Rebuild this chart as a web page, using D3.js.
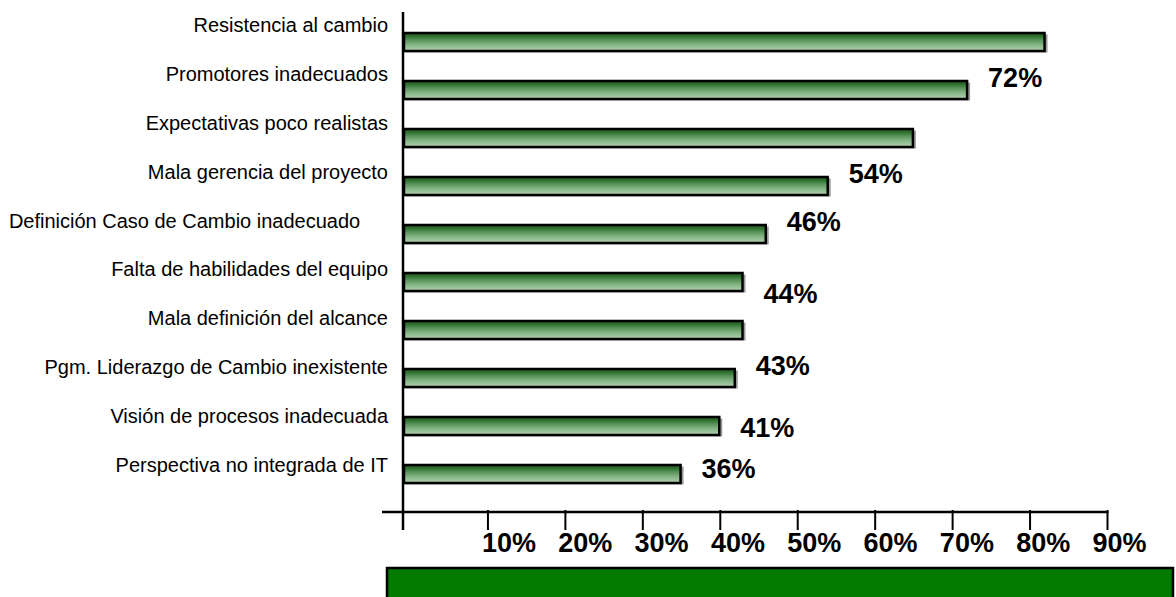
<!DOCTYPE html>
<html>
<head>
<meta charset="utf-8">
<script src="https://cdn.jsdelivr.net/npm/d3@7"></script>
<style>
  html, body { margin: 0; padding: 0; background: #fff; }
  svg { display: block; }
</style>
</head>
<body>
<svg id="chart" width="1176" height="597"></svg>
<script>
// ---- data ----
const categories = [
  "Resistencia al cambio",
  "Promotores inadecuados",
  "Expectativas poco realistas",
  "Mala gerencia del proyecto",
  "Definición Caso de Cambio inadecuado\u00a0\u00a0\u00a0\u00a0\u00a0",
  "Falta de habilidades del equipo",
  "Mala definición del alcance",
  "Pgm. Liderazgo de Cambio inexistente",
  "Visión de procesos inadecuada",
  "Perspectiva no integrada de IT"
];
const values = [82, 72, 65, 54, 46, 43, 43, 42, 40, 35];

// value labels as printed on the chart, the bar each one belongs to,
// and where along the category axis each one sits
const labelTexts = ["72%", "54%", "46%", "44%", "43%", "41%", "36%"];
const labelBars  = [1, 3, 4, 5, 7, 8, 9];
const labelAt    = [1, 3, 4, 5.5, 7, 8.3, 9.15];

const tickValues = [10, 20, 30, 40, 50, 60, 70, 80, 90];
const tickLabels = ["10%", "20%", "30%", "40%", "50%", "60%", "70%", "80%", "90%"];

// ---- layout ----
const svg = d3.select("#chart");
const x = d3.scaleLinear().domain([0, 90]).range([410.5, 1107.5]);
const y = d3.scaleLinear().domain([0, 9]).range([42, 474]);
const catLabelY = d3.scaleLinear().domain([0, 9]).range([32, 472]);
const tickLabelX = d3.scaleLinear().domain([10, 90]).range([x(10) - 6, x(90) - 15]);
const axisX = x(0) - 7.5;
const axisY = 512;
const barH = 18;
const font = "'Liberation Sans', Arial, sans-serif";

// gradient for bars
const defs = svg.append("defs");
const grad = defs.append("linearGradient").attr("id", "barGrad")
  .attr("x1", 0).attr("y1", 0).attr("x2", 0).attr("y2", 1);
[["0%", "#1d5a1d"], ["18%", "#2f6f2f"], ["40%", "#5a955a"], ["65%", "#86b486"], ["100%", "#b3d3b3"]]
  .forEach(([o, c]) => grad.append("stop").attr("offset", o).attr("stop-color", c));

// bottom green panel
svg.append("rect")
  .attr("x", 387).attr("y", 568).attr("width", 786).attr("height", 40)
  .attr("fill", "#007a00").attr("stroke", "#000").attr("stroke-width", 2.5);

// bars (shadow + bar)
const bars = svg.append("g");
bars.selectAll("rect.shadow").data(values).join("rect")
  .attr("class", "shadow")
  .attr("x", axisX + 2)
  .attr("y", (d, i) => y(i) - barH / 2 + 1.5)
  .attr("width", d => x(d) - axisX)
  .attr("height", barH)
  .attr("fill", "#9a9a9a");
bars.selectAll("rect.bar").data(values).join("rect")
  .attr("class", "bar")
  .attr("x", axisX + 1)
  .attr("y", (d, i) => y(i) - barH / 2)
  .attr("width", d => x(d) - axisX - 2)
  .attr("height", barH)
  .attr("fill", "url(#barGrad)")
  .attr("stroke", "#000")
  .attr("stroke-width", 2.5);

// axes
svg.append("line")
  .attr("x1", axisX).attr("x2", axisX).attr("y1", 12).attr("y2", 530)
  .attr("stroke", "#000").attr("stroke-width", 2.5);
svg.append("line")
  .attr("x1", 382).attr("x2", x(90) + 1).attr("y1", axisY).attr("y2", axisY)
  .attr("stroke", "#000").attr("stroke-width", 2.5);
svg.selectAll("line.tick").data(tickValues).join("line")
  .attr("class", "tick")
  .attr("x1", d => x(d)).attr("x2", d => x(d))
  .attr("y1", axisY - 2).attr("y2", axisY + 18)
  .attr("stroke", "#000").attr("stroke-width", 2);
svg.selectAll("text.ticklabel").data(tickValues).join("text")
  .attr("class", "ticklabel")
  .attr("x", d => tickLabelX(d))
  .attr("y", 552)
  .attr("font-family", font).attr("font-size", 27).attr("font-weight", "bold")
  .attr("fill", "#000")
  .text((d, i) => tickLabels[i]);

// category labels
svg.selectAll("text.cat").data(categories).join("text")
  .attr("class", "cat")
  .attr("x", 388)
  .attr("y", (d, i) => catLabelY(i))
  .attr("text-anchor", "end")
  .attr("font-family", font).attr("font-size", 20)
  .attr("fill", "#000")
  .style("white-space", "pre")
  .text(d => d);

// value labels
svg.selectAll("text.val").data(labelTexts).join("text")
  .attr("class", "val")
  .attr("x", (d, i) => x(values[labelBars[i]]) + 20)
  .attr("y", (d, i) => y(labelAt[i]) - 3)
  .attr("font-family", font).attr("font-size", 27).attr("font-weight", "bold")
  .attr("fill", "#000")
  .text(d => d);
</script>
</body>
</html>
